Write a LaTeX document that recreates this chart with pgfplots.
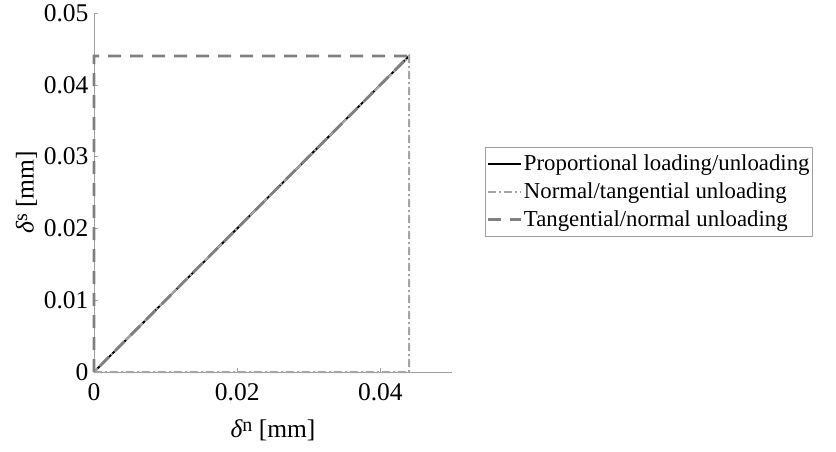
\documentclass[border=0pt]{standalone}
\usepackage{pgfplots}
\pgfplotsset{compat=1.18}
\usepackage{fontspec}
\setmainfont{Liberation Serif}
\definecolor{dkgray}{RGB}{128,128,128}
\definecolor{ltgray}{RGB}{165,165,165}
\definecolor{axgray}{RGB}{160,160,160}
\newcommand{\bigfont}{\fontsize{25.5}{30}\selectfont}
\newcommand{\legfont}{\fontsize{22.8}{27}\selectfont}
\newcommand{\supx}[1]{\raisebox{0.55ex}{\fontsize{20}{20}\selectfont #1}}
\begin{document}
\begin{tikzpicture}
\path[use as bounding box] (0pt,0pt) rectangle (836pt,-452pt);
\begin{axis}[
  at={(94pt,-372pt)}, anchor=south west,
  scale only axis, width=358pt, height=359pt,
  xmin=0, xmax=0.05, ymin=0, ymax=0.05,
  axis x line=bottom, axis y line=left,
  axis line style={draw=axgray, line width=0.8pt, -},
  xtick={0,0.02,0.04}, ytick={0,0.01,0.02,0.03,0.04,0.05},
  tick style={draw=axgray, line width=0.6pt},
  tick align=inside, major tick length=4pt,
  /pgf/number format/assume math mode=true,
  /pgf/number format/fixed, /pgf/number format/precision=2,
  scaled ticks=false,
  tick label style={font=\bigfont, text=black},
  xticklabel style={yshift=-8pt},
  yticklabel style={xshift=-2pt},
  xlabel={{\itshape δ}\supx{n} [mm]},
  ylabel={{\itshape δ}\supx{s} [mm]},
  xlabel style={yshift=-12pt},
  ylabel style={yshift=0pt},
  label style={font=\bigfont},
  clip=false,
  legend style={at={(1.092,0.627)}, anchor=north west, draw=axgray,
    font=\legfont, inner xsep=1pt, inner ysep=6pt, row sep=6.5pt,
    /tikz/every even column/.append style={column sep=0pt}},
  legend cell align=left,
  legend image code/.code={\draw[#1] (0pt,0pt) -- (33pt,0pt);},
]
\addplot[black, line width=2pt] coordinates {(0,0) (0.044,0.044)};
\addlegendentry{Proportional loading/unloading}
\addplot[ltgray, line width=2pt, dash pattern=on 8pt off 3pt on 2pt off 3pt] coordinates {(0,0) (0.044,0) (0.044,0.044) (0,0)};
\addlegendentry{Normal/tangential unloading}
\addplot[dkgray, line width=2.8pt, dash pattern=on 13pt off 9pt] coordinates {(0,0) (0,0.044) (0.044,0.044) (0,0)};
\addlegendentry{Tangential/normal unloading}
\end{axis}
\end{tikzpicture}
\end{document}
